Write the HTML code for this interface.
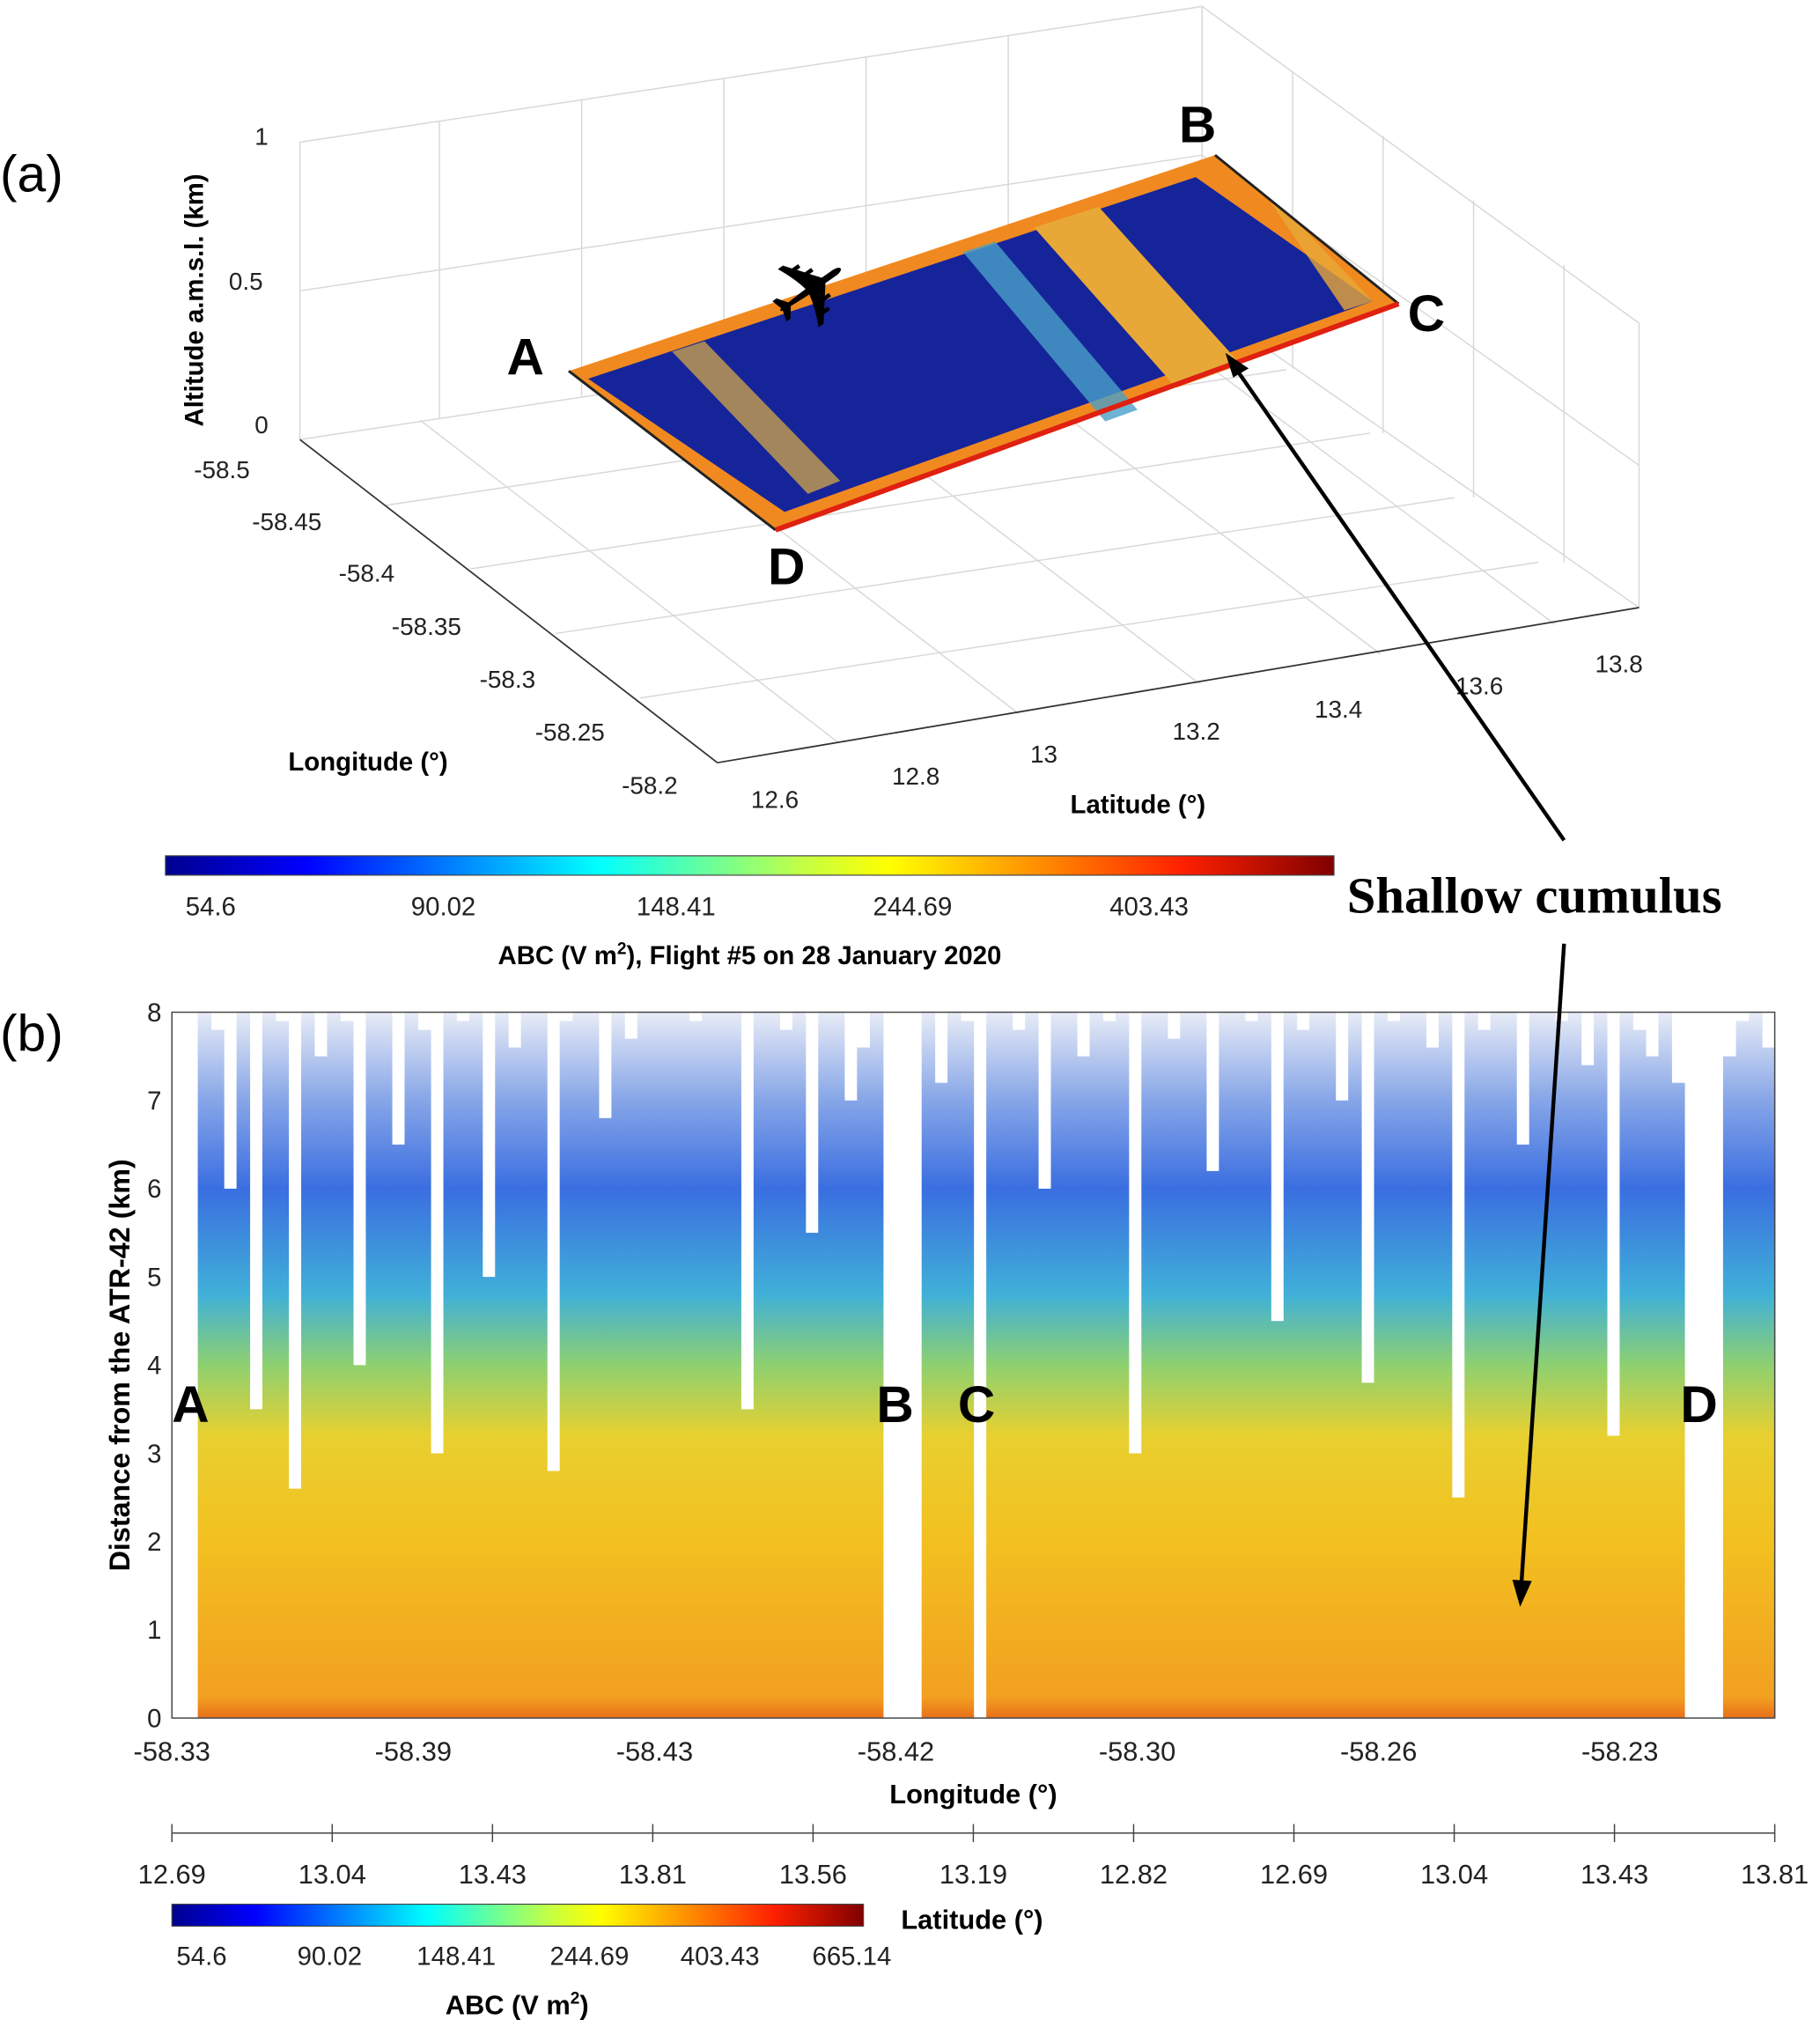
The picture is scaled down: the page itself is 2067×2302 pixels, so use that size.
<!DOCTYPE html>
<html><head><meta charset="utf-8"><style>
html,body{margin:0;padding:0;background:#fff;}
svg{display:block;font-family:"Liberation Sans",sans-serif;}
</style></head><body>
<svg id="fig" width="2067" height="2302" viewBox="0 0 1408 1568" preserveAspectRatio="none">
<defs>
<linearGradient id="jet" x1="0" x2="1" y1="0" y2="0">
<stop offset="0" stop-color="#00008f"/><stop offset="0.12" stop-color="#0000ff"/><stop offset="0.37" stop-color="#00ffff"/><stop offset="0.55" stop-color="#c8ff40"/><stop offset="0.62" stop-color="#ffff00"/><stop offset="0.87" stop-color="#ff2000"/><stop offset="1" stop-color="#800000"/>
</linearGradient>
<linearGradient id="col" gradientUnits="userSpaceOnUse" x1="0" x2="0" y1="1329" y2="783">
<stop offset="0" stop-color="#e8701a"/><stop offset="0.03" stop-color="#f2a020"/><stop offset="0.25" stop-color="#f2c020"/><stop offset="0.4" stop-color="#e8d030"/><stop offset="0.5" stop-color="#8ed070"/><stop offset="0.6" stop-color="#40b0d8"/><stop offset="0.75" stop-color="#3a6ee0"/><stop offset="0.88" stop-color="#8aa8e8"/><stop offset="1" stop-color="#e8ecf6"/>
</linearGradient>
</defs>
<text x="0" y="148" font-size="40">(a)</text>
<g id="box3d" stroke="#d8d8d8" stroke-width="1" fill="none">
<polyline points="232,340 232,110 930,5 930,235 232,340"/>
<polyline points="930,5 1268,250 1268,470 930,235"/>
<line x1="232" y1="225" x2="930" y2="120"/><line x1="930" y1="120" x2="1268" y2="360"/>
<line x1="340" y1="94" x2="340" y2="324"/><line x1="450" y1="77" x2="450" y2="307"/><line x1="560" y1="61" x2="560" y2="291"/><line x1="670" y1="44" x2="670" y2="274"/><line x1="780" y1="28" x2="780" y2="258"/>
<line x1="1000" y1="55" x2="1000" y2="285"/><line x1="1070" y1="105" x2="1070" y2="335"/><line x1="1140" y1="155" x2="1140" y2="385"/><line x1="1210" y1="205" x2="1210" y2="435"/>
<line x1="298" y1="391" x2="995" y2="286"/><line x1="364" y1="440" x2="1060" y2="335"/><line x1="430" y1="490" x2="1125" y2="385"/><line x1="495" y1="540" x2="1190" y2="435"/>
<line x1="325" y1="325" x2="648" y2="574"/><line x1="465" y1="304" x2="788" y2="552"/><line x1="605" y1="283" x2="928" y2="529"/><line x1="745" y1="262" x2="1068" y2="506"/><line x1="880" y1="242" x2="1203" y2="483"/>
</g>
<g stroke="#333" stroke-width="1.2" fill="none">
<line x1="232" y1="340" x2="555" y2="590"/>
<line x1="555" y1="590" x2="1268" y2="470"/>
</g>
<g font-size="19" fill="#222">
<text x="197" y="112">1</text><text x="177" y="224">0.5</text><text x="197" y="335">0</text>
<text x="150" y="370">-58.5</text><text x="195" y="410">-58.45</text><text x="262" y="450">-58.4</text><text x="303" y="491">-58.35</text><text x="371" y="532">-58.3</text><text x="414" y="573">-58.25</text><text x="481" y="614">-58.2</text>
<text x="581" y="625">12.6</text><text x="690" y="607">12.8</text><text x="797" y="590">13</text><text x="907" y="572">13.2</text><text x="1017" y="555">13.4</text><text x="1126" y="537">13.6</text><text x="1234" y="520">13.8</text>
</g>
<text x="0" y="0" font-size="20" font-weight="bold" transform="translate(157,330) rotate(-90)">Altitude a.m.s.l. (km)</text>
<text x="223" y="596" font-size="20" font-weight="bold">Longitude (°)</text>
<text x="828" y="629" font-size="20" font-weight="bold">Latitude (°)</text>
<g>
<polygon points="440,287 940,120 1082,235 600,410" fill="#f08a20"/>
<polygon points="455,293 925,137 1062,233 607,396" fill="#16249a"/>
<polygon points="800,176 850,160 960,282 910,300" fill="#e8a838"/>
<polygon points="745,195 770,187 880,317 855,326" fill="#4aa0c8" opacity="0.8"/>
<polygon points="520,272 545,264 650,372 625,382" fill="#e0b040" opacity="0.7"/>
<polygon points="980,152 1000,168 1062,233 1040,240" fill="#e8a838" opacity="0.8"/>
<line x1="440" y1="287" x2="600" y2="410" stroke="#222" stroke-width="2"/>
<line x1="940" y1="120" x2="1082" y2="235" stroke="#222" stroke-width="2"/>
<line x1="600" y1="410" x2="1082" y2="235" stroke="#e02010" stroke-width="4"/>
</g>
<g font-size="40" font-weight="bold">
<text x="392" y="290">A</text><text x="912" y="110">B</text><text x="1089" y="256">C</text><text x="594" y="452">D</text>
</g>
<text x="593" y="245" font-size="80" transform="rotate(-35 640 220)">✈</text>
<line x1="1210" y1="650" x2="956" y2="285" stroke="#000" stroke-width="3"/>
<polygon points="948,273 966,285 954,292" fill="#000"/>
<rect x="128" y="662" width="904" height="15" fill="url(#jet)" stroke="#444" stroke-width="0.8"/>
<g font-size="20" fill="#222" text-anchor="middle">
<text x="163" y="708">54.6</text><text x="343" y="708">90.02</text><text x="523" y="708">148.41</text><text x="706" y="708">244.69</text><text x="889" y="708">403.43</text>
</g>
<text x="580" y="746" font-size="20" font-weight="bold" text-anchor="middle">ABC (V m<tspan dy="-8" font-size="13">2</tspan><tspan dy="8">), Flight #5 on 28 January 2020</tspan></text>
<text x="1042" y="706" font-size="40" font-weight="bold" font-family="Liberation Serif,serif">Shallow cumulus</text>
<text x="0" y="813" font-size="40">(b)</text>
<g id="heat"></g>
<rect x="133" y="783" width="1240" height="546" fill="none" stroke="#444" stroke-width="1"/>
<g id="yt" font-size="20" fill="#222" text-anchor="end"></g>
<text x="0" y="0" font-size="22" font-weight="bold" text-anchor="middle" transform="translate(100,1056) rotate(-90)">Distance from the ATR-42 (km)</text>
<g font-size="40" font-weight="bold">
<text x="133" y="1100">A</text><text x="678" y="1100">B</text><text x="741" y="1100">C</text><text x="1300" y="1100">D</text>
</g>
<g id="xt" font-size="21" fill="#222" text-anchor="middle"></g>
<text x="753" y="1395" font-size="21" font-weight="bold" text-anchor="middle">Longitude (°)</text>
<line x1="133" y1="1418" x2="1373" y2="1418" stroke="#444"/>
<g id="lt" font-size="21" fill="#222" text-anchor="middle"></g>
<text x="752" y="1492" font-size="21" font-weight="bold" text-anchor="middle">Latitude (°)</text>
<rect x="133" y="1473" width="535" height="17" fill="url(#jet)" stroke="#444" stroke-width="0.8"/>
<g font-size="20" fill="#222" text-anchor="middle">
<text x="156" y="1520">54.6</text><text x="255" y="1520">90.02</text><text x="353" y="1520">148.41</text><text x="456" y="1520">244.69</text><text x="557" y="1520">403.43</text><text x="659" y="1520">665.14</text>
</g>
<text x="400" y="1558" font-size="21" font-weight="bold" text-anchor="middle">ABC (V m<tspan dy="-8" font-size="13">2</tspan><tspan dy="8">)</tspan></text>
<line x1="1210" y1="730" x2="1177" y2="1225" stroke="#000" stroke-width="3"/>
<polygon points="1170,1222 1185,1223 1176,1243" fill="#000"/>
</svg>
<script>
const yTicks=[0,1,2,3,4,5,6,7,8];
const lonLabels=["-58.33","-58.39","-58.43","-58.42","-58.30","-58.26","-58.23"];
const latLabels=["12.69","13.04","13.43","13.81","13.56","13.19","12.82","12.69","13.04","13.43","13.81"];
// signal top heights (km) for 124 equally spaced profiles along the track; null = no data
const colTops=[null,null,8,7.8,6,8,3.5,8,7.9,2.6,
8,7.5,8,7.9,4,8,8,6.5,8,7.8,
3,8,7.9,8,5,8,7.6,8,8,2.8,
7.9,8,8,6.8,8,7.7,8,8,8,8,
7.9,8,8,8,3.5,8,8,7.8,8,5.5,
8,8,7,7.6,8,null,null,null,8,7.2,
8,7.9,null,8,8,7.8,8,6,8,8,
7.5,8,7.9,8,3,8,8,7.7,8,8,
6.2,8,8,7.9,8,4.5,8,7.8,8,8,
7,8,3.8,8,7.9,8,8,7.6,8,2.5,
8,7.8,8,8,6.5,8,8,7.9,8,7.4,
8,3.2,8,7.8,7.5,8,7.2,null,null,null,
7.5,7.9,8,7.6];
const NS="http://www.w3.org/2000/svg";
const X0=133,X1=1373,Y0=1329,Y1=783;
function yS(v){return Y0-(v/8)*(Y0-Y1);}
function xCol(i){return X0+(i/colTops.length)*(X1-X0);}
const heat=document.getElementById('heat');
colTops.forEach((t,i)=>{
  if(t===null)return;
  const r=document.createElementNS(NS,'rect');
  
  
  r.setAttribute('x',xCol(i));r.setAttribute('width',(X1-X0)/colTops.length+0.5);
  r.setAttribute('y',yS(t));r.setAttribute('height',Y0-yS(t));
  r.setAttribute('fill','url(#col)');
  heat.appendChild(r);
});
const yt=document.getElementById('yt');
yTicks.forEach(v=>{
  const t=document.createElementNS(NS,'text');
  
  
  t.setAttribute('x',125);t.setAttribute('y',yS(v)+7);t.textContent=v;yt.appendChild(t);
});
const xt=document.getElementById('xt');
lonLabels.forEach((s,i)=>{
  const t=document.createElementNS(NS,'text');
  
  
  t.setAttribute('x',X0+i*186.7);t.setAttribute('y',1362);t.textContent=s;xt.appendChild(t);
});
const lt=document.getElementById('lt');
latLabels.forEach((s,i)=>{
  const x=X0+i*(X1-X0)/(latLabels.length-1);
  const l=document.createElementNS(NS,'line');
  
  
  l.setAttribute('x1',x);l.setAttribute('x2',x);l.setAttribute('y1',1411);l.setAttribute('y2',1425);l.setAttribute('stroke','#444');lt.appendChild(l);
  const t=document.createElementNS(NS,'text');
  
  
  t.setAttribute('x',x);t.setAttribute('y',1457);t.textContent=s;lt.appendChild(t);
});
</script>
</body></html>
